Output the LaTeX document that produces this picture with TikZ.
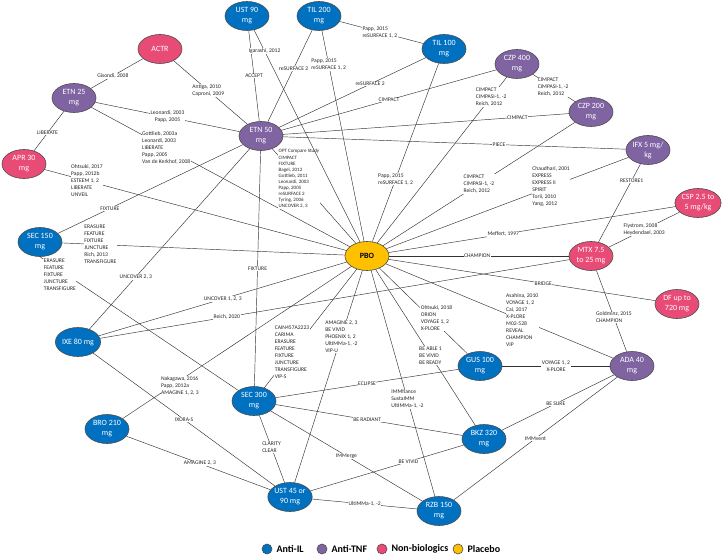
\documentclass[tikz,border=0pt]{standalone}
\usepackage{fontspec}
\setmainfont{Carlito}
\usepackage{xcolor}
\usetikzlibrary{shapes.geometric, positioning}

\definecolor{antiil}{HTML}{0070C0}
\definecolor{antitnf}{HTML}{8064A2}
\definecolor{nonbio}{HTML}{E94B77}
\definecolor{placebo}{HTML}{FFC000}

\begin{document}
\begin{tikzpicture}[x=1pt, y=-1pt,
    drug/.style={ellipse, draw=black!70, line width=0.6pt, minimum width=44pt, minimum height=29pt, inner sep=0pt, align=center, text=white, font=\fontsize{8}{10}\selectfont},
    il/.style={drug, fill=antiil},
    tnf/.style={drug, fill=antitnf},
    nb/.style={drug, fill=nonbio},
    pl/.style={drug, fill=placebo, text=black, font=\fontsize{8}{10}\selectfont\bfseries},
    trial/.style={fill=white, inner sep=0.5pt, align=left, text=black!85, font=\fontsize{5.6}{7}\selectfont},
    key/.style={circle, draw=black!70, line width=0.6pt, minimum size=10pt, inner sep=0pt},
    keytext/.style={inner sep=0pt, font=\fontsize{10}{12}\selectfont\bfseries}]

        \useasboundingbox (0,0) rectangle (722,556);

        \node[il] (ust90) at (247,16) {UST 90\\mg};
        \node[il] (til200) at (319,16) {TIL 200\\mg};
        \node[il] (til100) at (444,49) {TIL 100\\mg};
        \node[nb] (actr) at (160,49) {ACTR};
        \node[tnf] (etn25) at (74,98) {ETN 25\\mg};
        \node[tnf] (etn50) at (261,136) {ETN 50\\mg};
        \node[tnf] (czp400) at (517,64) {CZP 400\\mg};
        \node[tnf] (czp200) at (591,112) {CZP 200\\mg};
        \node[tnf] (ifx) at (648,150) {IFX 5 mg/\\kg};
        \node[nb] (apr) at (24,164) {APR 30\\mg};
        \node[nb] (csp) at (698,203) {CSP 2.5 to\\5 mg/kg};
        \node[pl] (pbo) at (367,256) {PBO};
        \node[il] (sec150) at (40,242) {SEC 150\\mg};
        \node[nb] (mtx) at (591,256) {MTX 7.5\\to 25 mg};
        \node[nb] (df) at (677,304) {DF up to\\720 mg};
        \node[il] (ixe) at (78,342) {IXE 80 mg};
        \node[il] (gus) at (480,366) {GUS 100\\mg};
        \node[tnf] (ada) at (632,366) {ADA 40\\mg};
        \node[il] (sec300) at (254,401) {SEC 300\\mg};
        \node[il] (bro) at (107,429) {BRO 210\\mg};
        \node[il] (bkz) at (484,439) {BKZ 320\\mg};
        \node[il] (ust45) at (290,497) {UST 45 or\\90 mg};
        \node[il] (rzb) at (439,511) {RZB 150\\mg};

        \path[draw=black!80, line width=0.45pt]
        (etn50) edge node[trial, pos=0.50] {ACCEPT} (ust90)
        (etn50) edge node[trial, pos=0.58] {reSURFACE 2} (til200)
        (etn50) edge node[trial, pos=0.62] {reSURFACE 2} (til100)
        (etn50) edge node[trial, pos=0.50] {CIMPACT} (czp400)
        (etn50) edge node[trial, pos=0.82] {CIMPACT} (czp200)
        (etn50) edge node[trial, pos=0.63] {PIECE} (ifx)
        (actr) edge node[trial, pos=0.47] {Antiga, 2010\\Caproni, 2009} (etn50)
        (etn25) edge node[trial, pos=0.50, align=center] {Leonardi, 2003\\Papp, 2005} (etn50)
        (etn25) edge node[trial, pos=0.29] {Gottlieb, 2003a\\Leonardi, 2003\\LIBERATE\\Papp, 2005\\Van de Kerkhof, 2008} (pbo)
        (etn25) edge node[trial, pos=0.42] {Gisondi, 2008} (actr)
        (etn25) edge node[trial, pos=0.55] {LIBERATE} (apr)
        (apr) edge node[trial, pos=0.14] {Ohtsuki, 2017\\Papp, 2012b\\ESTEEM 1, 2\\LIBERATE\\UNVEIL} (pbo)
        (etn50) edge node[trial, pos=0.32, font=\fontsize{5}{6.1}\selectfont] {OPT Compare Study\\CIMPACT\\FIXTURE\\Bagel, 2012\\Gottlieb, 2011\\Leonardi, 2003\\Papp, 2005\\reSURFACE 2\\Tyring, 2006\\UNCOVER 2, 3} (pbo)
        (etn50) edge node[trial, pos=0.72] {FIXTURE} (sec150)
        (etn50) edge node[trial, pos=0.71] {UNCOVER 2, 3} (ixe)
        (etn50) edge node[trial, pos=0.50] {FIXTURE} (sec300)
        (ust90) edge node[trial, pos=0.10] {Igarashi, 2012} (pbo)
        (til200) edge node[trial, pos=0.16] {Papp, 2015\\reSURFACE 1, 2} (pbo)
        (til200) edge node[trial, pos=0.48] {Papp, 2015\\reSURFACE 1, 2} (til100)
        (til100) edge node[trial, pos=0.65] {Papp, 2015\\reSURFACE 1, 2} (pbo)
        (czp400) edge node[trial, pos=0.12] {CIMPACT\\CIMPASI-1, -2\\Reich, 2012} (pbo)
        (czp400) edge node[trial, pos=0.48] {CIMPACT\\CIMPASI-1, -2\\Reich, 2012} (czp200)
        (czp200) edge node[trial, pos=0.50] {CIMPACT\\CIMPASI-1, -2\\Reich, 2012} (pbo)
        (ifx) edge node[trial, pos=0.32] {Chaudhari, 2001\\EXPRESS\\EXPRESS II\\SPIRIT\\Torii, 2010\\Yang, 2012} (pbo)
        (ifx) edge node[trial, pos=0.21] {RESTORE1} (mtx)
        (csp) edge node[trial, pos=0.60] {Meffert, 1997} (pbo)
        (csp) edge node[trial, pos=0.50] {Flystrom, 2008\\Heydendael, 2003} (mtx)
        (mtx) edge node[trial, pos=0.51] {CHAMPION} (pbo)
        (ixe) edge node[trial, pos=0.27] {Reich, 2020} (mtx)
        (ixe) edge node[trial, pos=0.50] {UNCOVER 1, 2, 3} (pbo)
        (sec150) edge node[trial, pos=0.135] {ERASURE\\FEATURE\\FIXTURE\\JUNCTURE\\Rich, 2013\\TRANSFIGURE} (pbo)
        (sec150.south) edge node[trial, pos=0.10, yshift=-5pt] {ERASURE\\FEATURE\\FIXTURE\\JUNCTURE\\TRANSFIGURE} (sec300)
        (sec300) edge node[trial, pos=0.30] {CAIN457A2223\\CARIMA\\ERASURE\\FEATURE\\FIXTURE\\JUNCTURE\\TRANSFIGURE\\VIP-S} (pbo)
        (ust45) edge node[trial, pos=0.69] {AMAGINE 2, 3\\BE VIVID\\PHOENIX 1, 2\\UltIMMa-1, -2\\VIP-U} (pbo)
        (rzb) edge node[trial, pos=0.43] {IMMhance\\SustaIMM\\UltIMMa-1, -2} (pbo)
        (bkz) edge node[trial, pos=0.45] {BE ABLE 1\\BE VIVID\\BE READY} (pbo)
        (gus) edge node[trial, pos=0.42, xshift=6pt] {Ohtsuki, 2018\\ORION\\VOYAGE 1, 2\\X-PLORE} (pbo)
        (ada) edge node[trial, pos=0.40] {Asahina, 2010\\VOYAGE 1, 2\\Cai, 2017\\X-PLORE\\M02-528\\REVEAL\\CHAMPION\\VIP} (pbo)
        (df) edge node[trial, pos=0.42] {BRIDGE} (pbo)
        (mtx) edge node[trial, pos=0.58] {Goldminz, 2015\\CHAMPION} (ada)
        (gus) edge node[trial, pos=0.50, align=center] {VOYAGE 1, 2\\X-PLORE} (ada)
        (bkz) edge node[trial, pos=0.48] {BE SURE} (ada)
        (rzb) edge node[trial, pos=0.50] {IMMvent} (ada)
        (sec300) edge node[trial, pos=0.50] {ECLIPSE} (gus)
        (sec300) edge node[trial, pos=0.49] {BE RADIANT} (bkz)
        (ust45) edge node[trial, pos=0.64] {BE VIVID} (bkz)
        (sec300) edge node[trial, pos=0.50] {IMMerge} (rzb)
        (ust45) edge node[trial, pos=0.50] {UltIMMa-1, -2} (rzb)
        (sec300) edge node[trial, pos=0.48] {CLARITY\\CLEAR} (ust45)
        (bro) edge node[trial, pos=0.25, yshift=-5pt] {Nakagawa, 2016\\Papp, 2012a\\AMAGINE 1, 2, 3} (pbo)
        (bro) edge node[trial, pos=0.51] {AMAGINE 2, 3} (ust45)
        (ixe) edge node[trial, pos=0.50] {IXORA-S} (ust45);

        \node[key, fill=antiil] (keyil) at (267,549) {};
        \node[keytext, right=4pt of keyil] {Anti-IL};
        \node[key, fill=antitnf] (keytnf) at (322,549) {};
        \node[keytext, right=4pt of keytnf] {Anti-TNF};
        \node[key, fill=nonbio] (keynb) at (382,549) {};
        \node[keytext, right=4pt of keynb] {Non-biologics};
        \node[key, fill=placebo] (keypl) at (458,549) {};
        \node[keytext, right=4pt of keypl] {Placebo};

    \end{tikzpicture}
\end{document}
